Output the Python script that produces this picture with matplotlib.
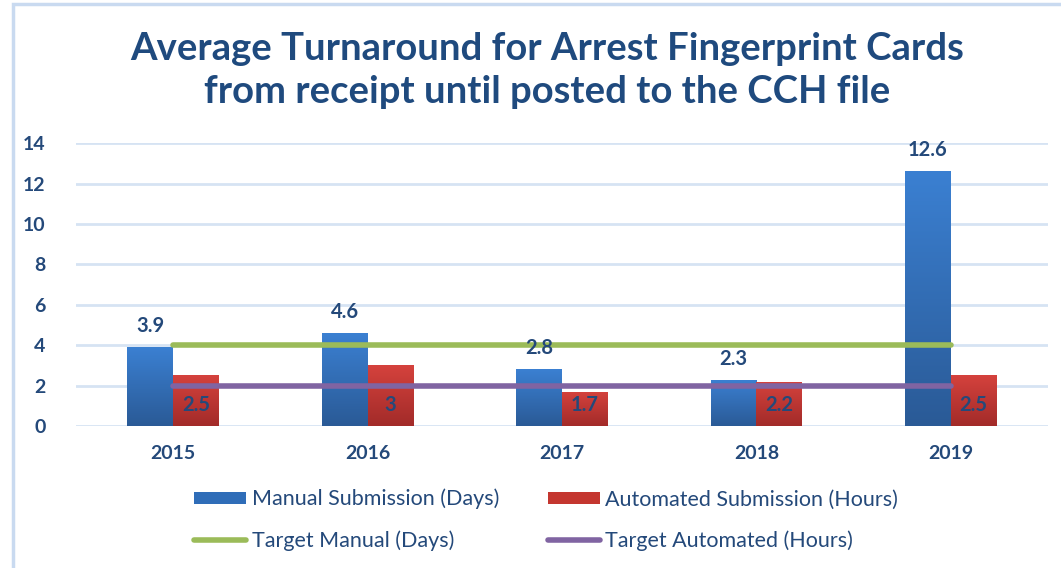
import numpy as np
import matplotlib
matplotlib.use("Agg")
import matplotlib.pyplot as plt
from matplotlib.colors import LinearSegmentedColormap
from matplotlib.patches import Rectangle
from matplotlib.lines import Line2D
from matplotlib.patches import Patch

# ================= DATOS =================
years = ["2015", "2016", "2017", "2018", "2019"]
manual_days = [3.9, 4.6, 2.8, 2.3, 12.6]
automated_hours = [2.5, 3, 1.7, 2.2, 2.5]
target_manual = [4, 4, 4, 4, 4]
target_automated = [2, 2, 2, 2, 2]
manual_labels = ["3.9", "4.6", "2.8", "2.3", "12.6"]
automated_labels = ["2.5", "3", "1.7", "2.2", "2.5"]

TXT = "#24497A"
plt.rcParams['font.family'] = ['Lato', 'DejaVu Sans']

fig = plt.figure(figsize=(10.61, 5.68), dpi=100)
ax = fig.add_axes([0.0716, 0.25, 0.9161, 0.498])

# borde del grafico
fig.patches.append(Rectangle((13 / 1061, -0.1), 1.2, 1.1 - 4 / 568, transform=fig.transFigure,
                             fill=False, edgecolor="#C9DAF0", linewidth=2.5))

x = np.arange(len(years))
w = 0.235


def gradient_bars(bars, top, bottom):
    cmap = LinearSegmentedColormap.from_list("g", [bottom, top])
    grad = np.linspace(0, 1, 256).reshape(-1, 1)
    for b in bars:
        bx, by = b.get_xy()
        bw, bh = b.get_width(), b.get_height()
        im = ax.imshow(grad, extent=[bx, bx + bw, by, by + bh], origin="lower",
                       cmap=cmap, aspect="auto", zorder=2)
        im.set_clip_path(b)
        b.set_facecolor("none")


b1 = ax.bar(x - w / 2, manual_days, w, color="#3379C9", zorder=2, linewidth=0)
b2 = ax.bar(x + w / 2, automated_hours, w, color="#C0392F", zorder=2, linewidth=0)
gradient_bars(b1, "#3B80D2", "#2A5A96")
gradient_bars(b2, "#D5423D", "#A22B29")

ax.plot(x, target_manual, color="#9BBB59", linewidth=4, solid_capstyle="round", zorder=3)
ax.plot(x, target_automated, color="#8064A2", linewidth=4, solid_capstyle="round", zorder=3)

for xi, v, t in zip(x, manual_days, manual_labels):
    ax.annotate(t, (xi - w / 2, v), xytext=(0, 21), textcoords="offset pixels",
                ha="center", va="center", fontsize=14.5, color=TXT, fontweight="bold", zorder=5)
for xi, t in zip(x, automated_labels):
    ax.annotate(t, (xi + w / 2, 0), xytext=(0, 21), textcoords="offset pixels",
                ha="center", va="center", fontsize=14.5, color=TXT, fontweight="bold", zorder=5)

ax.set_xlim(-0.5, 4.5)
ax.set_ylim(0, 14)
ax.set_yticks(range(0, 15, 2))
ax.set_xticks(x)
ax.set_xticklabels(years)
ax.tick_params(axis="both", length=0, labelsize=14, labelcolor=TXT)
ax.tick_params(axis="x", pad=14)
ax.tick_params(axis="y", pad=22)
for lab in ax.get_yticklabels() + ax.get_xticklabels():
    lab.set_fontweight("bold")
ax.grid(axis="y", color="#D6E3F3", linewidth=2)
ax.set_axisbelow(True)
for s in ax.spines.values():
    s.set_visible(False)

fig.text(0.516, 0.876, "Average Turnaround for Arrest Fingerprint Cards\nfrom receipt until posted to the CCH file",
         ha="center", va="center", fontsize=27.5, fontweight="bold", color="#1F4A7E", linespacing=1.32)

handles = [
    Patch(facecolor="#2F6DB8"),
    Line2D([0], [0], color="#9BBB59", linewidth=4, solid_capstyle="round"),
    Patch(facecolor="#C4362F"),
    Line2D([0], [0], color="#8064A2", linewidth=4, solid_capstyle="round"),
]
labels = ["Manual Submission (Days)", "Target Manual (Days)",
          "Automated Submission (Hours)", "Target Automated (Hours)"]
fig.legend(handles, labels, ncol=2, loc="center", bbox_to_anchor=(0.515, 0.085),
           frameon=False, fontsize=15.5, labelcolor=TXT, handlelength=2.4, handleheight=0.5,
           handletextpad=0.25, columnspacing=2.3, labelspacing=0.95)

fig.savefig("out.png", dpi=100)
